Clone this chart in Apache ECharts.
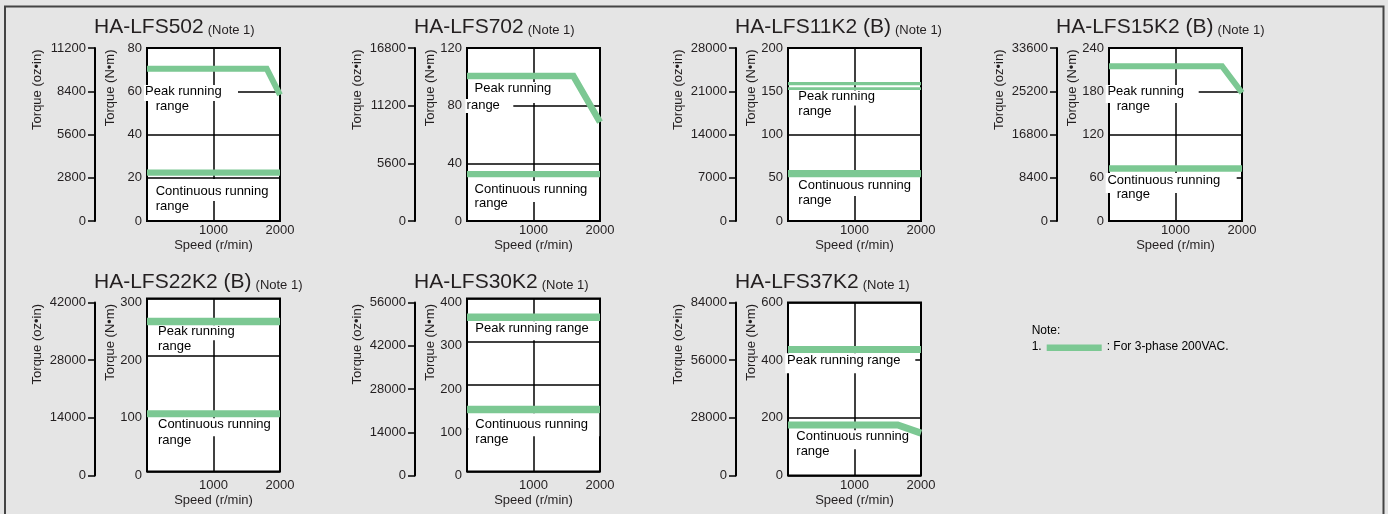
<!DOCTYPE html>
<html><head><meta charset="utf-8">
<script src="https://cdn.jsdelivr.net/npm/echarts@6/dist/echarts.min.js"></script>
<style>html,body{margin:0;padding:0;background:#e5e5e5}#c{width:1388px;height:514px}</style>
</head><body><div id="c"></div>
<script>
// ---------------- DATA ----------------
const models = ["HA-LFS502", "HA-LFS702", "HA-LFS11K2 (B)", "HA-LFS15K2 (B)", "HA-LFS22K2 (B)", "HA-LFS30K2", "HA-LFS37K2"];
const noteRef = "(Note 1)";
const speedMax = 2000;
const speedStep = 1000;
const nmMax = [80, 120, 200, 240, 300, 400, 600];
const nmStep = [20, 40, 50, 60, 100, 100, 200];
const ozMax = [11200, 16800, 28000, 33600, 42000, 56000, 84000];
const ozStep = [2800, 5600, 7000, 8400, 14000, 14000, 28000];
// Peak running range boundary (speed r/min, torque N·m)
const peakSpeed  = [[0, 1800, 2000], [0, 1600, 2000], [0, 2000], [0, 1700, 2000], [0, 2000], [0, 2000], [0, 2000]];
const peakTorque = [[70.4, 70.4, 58.3], [100.5, 100.5, 68.5], [158.7, 158.7], [214.8, 214.8, 178], [260, 260], [356.5, 356.5], [437, 437]];
// second (lower) peak line shown for HA-LFS11K2 (B)
const peak2Speed  = [null, null, [0, 2000], null, null, null, null];
const peak2Torque = [null, null, [153, 153], null, null, null, null];
// Continuous running range boundary
const contSpeed  = [[0, 2000], [0, 2000], [0, 2000], [0, 2000], [0, 2000], [0, 2000], [0, 1650, 2000]];
const contTorque = [[22.4, 22.4], [32.5, 32.5], [54.7, 54.7], [73, 73], [100, 100], [143.5, 143.5], [175.5, 175.5, 147]];
const rangeTexts = [
  ["Peak running", "range", "Continuous running", "range"],
  ["Peak running", "range", "Continuous running", "range"],
  ["Peak running", "range", "Continuous running", "range"],
  ["Peak running", "range", "Continuous running", "range"],
  ["Peak running", "range", "Continuous running", "range"],
  ["Peak running range", "Continuous running", "range"],
  ["Peak running range", "Continuous running", "range"]
];
const ozName = "Torque (oz\u2022in)";
const nmName = "Torque (N\u2022m)";
const speedName = "Speed (r/min)";
const noteTitle = "Note:";
const noteNum = "1.";
const noteText = ": For 3-phase 200VAC.";

// ---------------- LAYOUT / STYLE ----------------
const GREEN = '#7cc893';
const INK = '#231f20';
const FONT = '"Liberation Sans", Arial, Helvetica, sans-serif';
const W = 133, H = 173, OZ_OFF = 52;
const layout = [
  {ozX: 95,   boxT: 48,    frameT: 48},
  {ozX: 415,  boxT: 48,    frameT: 48},
  {ozX: 736,  boxT: 48,    frameT: 48},
  {ozX: 1057, boxT: 48,    frameT: 48},
  {ozX: 95,   boxT: 298.5, frameT: 302.5},
  {ozX: 415,  boxT: 298.5, frameT: 302.5},
  {ozX: 736,  boxT: 302.5, frameT: 302.5}
];
const peakWidth = [6, 6.5, 3.3, 6, 7.5, 7.5, 7];
const peak2Width = 2.7;
const contWidth = [6.3, 6.3, 7.3, 6.5, 7, 7.5, 7];
// text line positions relative to box (left, center-y)
const textPos = [
  [[-2, 44.7], [8.7, 59.3], [8.7, 144.7], [8.7, 159.3]],
  [[7.6, 41], [-0.4, 58], [7.6, 142.7], [7.6, 156.3]],
  [[10.3, 49.7], [10.3, 64.7], [10.3, 138.7], [10.3, 153]],
  [[-1.6, 44.7], [7.7, 59.7], [-1.6, 133.7], [7.7, 147]],
  [[11, 34], [11, 49.4], [11, 127.4], [11, 143.4]],
  [[8.3, 31], [8.3, 127.4], [8.3, 142.4]],
  [[-1, 58.7], [8.3, 135], [8.3, 150.4]]
];
// white text backgrounds relative to box (dx, dy, w, h)
const whiteRects = [
  [[-3, 37, 94, 16], [7, 131, 116, 22]],
  [[5.3, 34, 80, 21], [-1.7, 51, 48, 14], [5.3, 133, 118, 21]],
  [[1, 42.5, 131, 15], [1, 129, 131, 19]],
  [[-3.3, 37, 93, 18], [-3.3, 125, 131, 20]],
  [[8.3, 26.7, 95, 15], [8.3, 119.7, 117, 18]],
  [[3.3, 22.7, 126, 19], [1.3, 114.7, 131, 23]],
  [[-2.7, 50.7, 130, 20], [6.3, 127.7, 118, 19]]
];

const mctx = document.createElement('canvas').getContext('2d');
function tw(t, f) { mctx.font = f; return mctx.measureText(t).width; }

const grids = [], xAxes = [], yAxes = [], series = [], graphics = [];
const labelStyle = {color: INK, fontSize: 13, fontFamily: FONT};
const plain = v => String(v);

graphics.push({type: 'rect', shape: {x: 5, y: 6.5, width: 1378.5, height: 600}, style: {fill: null, stroke: '#444', lineWidth: 2}, z: 0, silent: true});

function pairs(xs, ys) { return xs.map((x, k) => [x, ys[k]]); }

models.forEach((m, i) => {
  const L = layout[i];
  const boxL = L.ozX + OZ_OFF;
  const gBox = 2 * i, gFrame = 2 * i + 1;
  grids.push({left: boxL, top: L.boxT, width: W, height: H, show: true, backgroundColor: '#fff', borderColor: '#000', borderWidth: 2});
  grids.push({left: boxL, top: L.frameT, width: W, height: H, show: false});
  xAxes.push({type: 'value', gridIndex: gBox, min: 0, max: speedMax, interval: speedStep,
    axisLine: {show: false}, axisTick: {show: false}, axisLabel: {show: false},
    splitLine: {show: true, lineStyle: {color: '#000', width: 1.5}}});
  xAxes.push({type: 'value', gridIndex: gFrame, min: 0, max: speedMax, interval: speedStep,
    axisLine: {show: false}, axisTick: {show: false}, splitLine: {show: false},
    axisLabel: Object.assign({margin: 3, showMaxLabel: true, formatter: v => v === 0 ? '' : String(v)}, labelStyle),
    name: speedName, nameLocation: 'middle', nameGap: 18, nameTextStyle: labelStyle});
  yAxes.push({type: 'value', gridIndex: gBox, min: 0, max: nmMax[i], interval: nmStep[i],
    axisLine: {show: false}, axisTick: {show: false}, axisLabel: {show: false},
    splitLine: {show: true, lineStyle: {color: '#000', width: 1.5}}});
  yAxes.push({type: 'value', gridIndex: gFrame, min: 0, max: nmMax[i], interval: nmStep[i], position: 'left',
    axisLine: {show: false, onZero: false}, axisTick: {show: false}, splitLine: {show: false},
    axisLabel: Object.assign({margin: 5, formatter: plain}, labelStyle)});
  yAxes.push({type: 'value', gridIndex: gFrame, min: 0, max: ozMax[i], interval: ozStep[i], position: 'left', offset: OZ_OFF,
    axisLine: {show: true, onZero: false, lineStyle: {color: '#000', width: 2}},
    axisTick: {show: true, length: 7, lineStyle: {color: '#000', width: 1.5}},
    splitLine: {show: false}, axisLabel: Object.assign({margin: 9, formatter: plain}, labelStyle)});
  const xi = 2 * i, yi = 3 * i;
  const lineBase = {type: 'line', xAxisIndex: xi, yAxisIndex: yi, showSymbol: false, symbol: 'none', clip: false, silent: true, z: 10, animation: false};
  series.push(Object.assign({}, lineBase, {data: pairs(peakSpeed[i], peakTorque[i]), lineStyle: {color: GREEN, width: peakWidth[i], cap: 'butt', join: 'miter'}}));
  if (peak2Speed[i]) series.push(Object.assign({}, lineBase, {data: pairs(peak2Speed[i], peak2Torque[i]), lineStyle: {color: GREEN, width: peak2Width, cap: 'butt'}}));
  series.push(Object.assign({}, lineBase, {data: pairs(contSpeed[i], contTorque[i]), lineStyle: {color: GREEN, width: contWidth[i], cap: 'butt', join: 'miter'}}));

  const bigF = '21px ' + FONT, smallF = '13px ' + FONT;
  const base = L.frameT - 13;
  const tx = L.ozX - 1;
  graphics.push({type: 'text', x: tx, y: base - 0.35 * 21, z: 6, silent: true,
    style: {text: m, font: bigF, fill: INK, align: 'left', verticalAlign: 'middle', textAlign: 'left', textVerticalAlign: 'middle'}});
  graphics.push({type: 'text', x: tx + tw(m, bigF) + 4, y: base - 0.35 * 13, z: 6, silent: true,
    style: {text: noteRef, font: smallF, fill: INK, align: 'left', verticalAlign: 'middle', textAlign: 'left', textVerticalAlign: 'middle'}});
  [[ozName, L.ozX - 57.7], [nmName, boxL - 37]].forEach(([t, cx]) => {
    graphics.push({type: 'text', x: cx, y: L.frameT + 1.5, rotation: Math.PI / 2, z: 6, silent: true,
      style: {text: t, font: '13px ' + FONT, fill: INK, align: 'right', verticalAlign: 'middle', textAlign: 'right', textVerticalAlign: 'middle'}});
  });
  whiteRects[i].forEach(r => {
    graphics.push({type: 'rect', shape: {x: boxL + r[0], y: L.boxT + r[1], width: r[2], height: r[3]}, style: {fill: '#fff'}, z: 5, silent: true});
  });
  rangeTexts[i].forEach((t, k) => {
    const p = textPos[i][k];
    graphics.push({type: 'text', x: boxL + p[0], y: L.boxT + p[1] - 1, z: 6, silent: true,
      style: {text: t, font: '13px ' + FONT, fill: '#000', align: 'left', verticalAlign: 'middle', textAlign: 'left', textVerticalAlign: 'middle'}});
  });
});

const nf = '12px ' + FONT;
graphics.push({type: 'text', x: 1031.7, y: 331, z: 6, silent: true, style: {text: noteTitle, font: nf, fill: '#000', align: 'left', verticalAlign: 'middle', textAlign: 'left', textVerticalAlign: 'middle'}});
graphics.push({type: 'text', x: 1031.7, y: 347, z: 6, silent: true, style: {text: noteNum, font: nf, fill: '#000', align: 'left', verticalAlign: 'middle', textAlign: 'left', textVerticalAlign: 'middle'}});
graphics.push({type: 'rect', shape: {x: 1046.7, y: 344.5, width: 55, height: 6.5}, style: {fill: GREEN}, z: 6, silent: true});
graphics.push({type: 'text', x: 1106.7, y: 347, z: 6, silent: true, style: {text: noteText, font: nf, fill: '#000', align: 'left', verticalAlign: 'middle', textAlign: 'left', textVerticalAlign: 'middle'}});

const chart = echarts.init(document.getElementById('c'), null, {renderer: 'canvas', width: 1388, height: 514});
chart.setOption({
  backgroundColor: '#e5e5e5',
  animation: false,
  grid: grids, xAxis: xAxes, yAxis: yAxes, series: series, graphic: graphics
});
</script></body></html>
